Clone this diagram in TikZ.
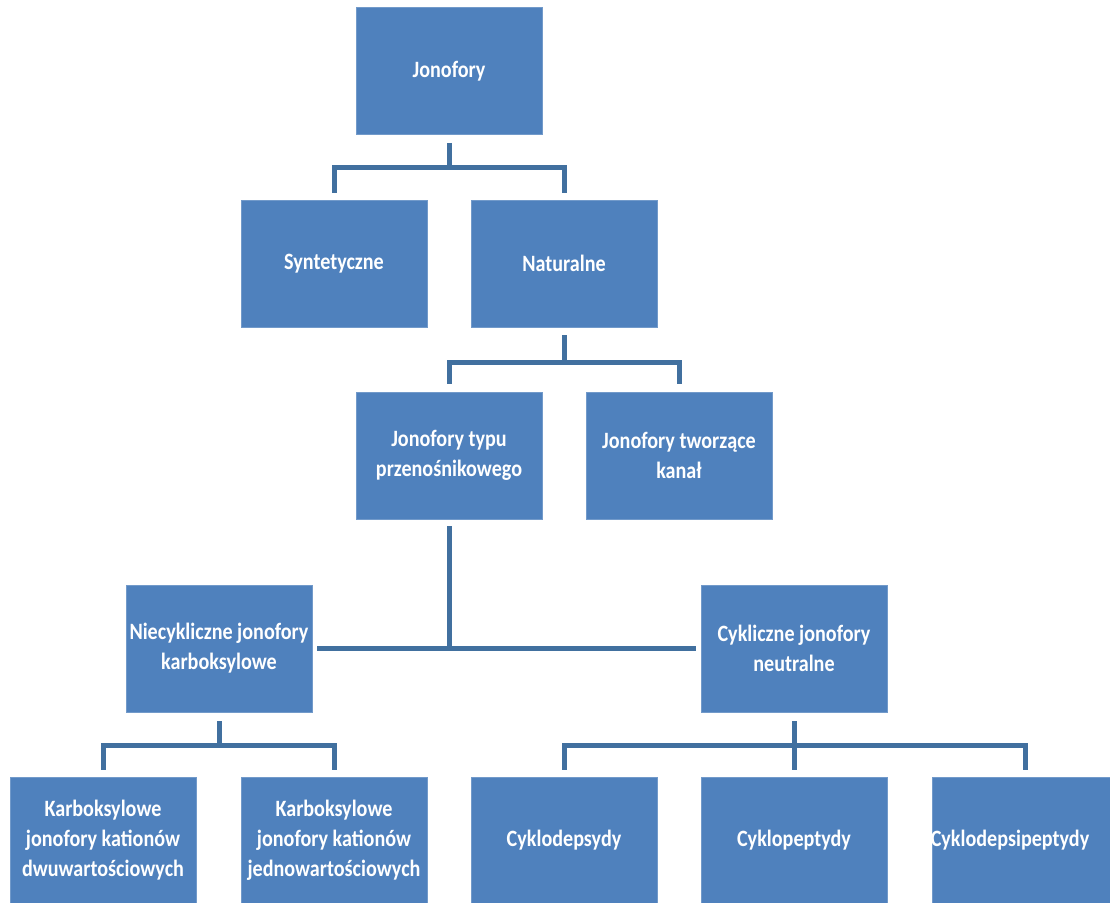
\documentclass[tikz,border=0pt]{standalone}
\usepackage{fontspec}
\setmainfont[FakeStretch=0.86]{Carlito}
\usetikzlibrary{calc}
\definecolor{boxblue}{HTML}{4F81BD}
\definecolor{lineblue}{HTML}{41709F}
\tikzset{
  orgbox/.style={rectangle, fill=boxblue, draw=boxblue!80!white, line width=0.8pt,
    minimum width=186pt, minimum height=127pt, inner sep=0pt,
    text=white, align=center, font=\fontsize{23.4}{30}\selectfont\bfseries},
  orgtxt/.style={text=white, align=center, inner sep=0pt, font=\fontsize{23.4}{30}\selectfont\bfseries},
  conn/.style={draw=lineblue, line width=5pt}
}
\begin{document}
\begin{tikzpicture}[x=1pt,y=-1pt]
\useasboundingbox (0,0) rectangle (1110,902);
\clip (0,0) rectangle (1110,902);
\node[orgbox] (jon) at (449,71) {Jonofory};
\node[orgbox] (syn) at (334,263.5) {Syntetyczne};
\node[orgbox] (nat) at (564,263.5) {Naturalne};
\node[orgbox] (prz) at (449,455.5) {Jonofory typu\\przenośnikowego};
\node[orgbox] (kan) at (679,455.5) {Jonofory tworzące\\kanał};
\node[orgbox] (nie) at (219,648.5) {Niecykliczne jonofory\\karboksylowe};
\node[orgbox] (cyk) at (794,648.5) {Cykliczne jonofory\\neutralne};
\node[orgbox] (dwu) at (103,840.5) {Karboksylowe\\jonofory kationów\\dwuwartościowych};
\node[orgbox] (jed) at (334,840.5) {Karboksylowe\\jonofory kationów\\jednowartościowych};
\node[orgbox] (cds) at (564,840.5) {Cyklodepsydy};
\node[orgbox] (cpt) at (794,840.5) {Cyklopeptydy};
\node[orgbox] (cdp) at (1025,840.5) {};
\node[orgtxt] (cdpt) at (1010,840.5) {Cyklodepsipeptydy};
% level 1
\draw[conn] ($(jon.south)+(0,8)$) -- ($(jon.south)+(0,33)$);
\draw[conn] ($(syn.north)+(0,-7)$) -- ($(syn.north)+(0,-32)$) -- ($(nat.north)+(0,-32)$) -- ($(nat.north)+(0,-7)$);
% level 2
\draw[conn] ($(nat.south)+(0,8)$) -- ($(nat.south)+(0,34)$);
\draw[conn] ($(prz.north)+(0,-8)$) -- ($(prz.north)+(0,-29)$) -- ($(kan.north)+(0,-29)$) -- ($(kan.north)+(0,-8)$);
% level 3
\draw[conn] ($(prz.south)+(0,7)$) -- ($(prz.south)+(0,128)$);
\draw[conn] ($(nie.east)+(5,0)$) -- ($(cyk.west)+(-5,0)$);
% level 4 left
\draw[conn] ($(nie.south)+(0,9)$) -- ($(nie.south)+(0,33)$);
\draw[conn] ($(dwu.north)+(0,-7)$) -- ($(dwu.north)+(0,-31)$) -- ($(jed.north)+(0,-31)$) -- ($(jed.north)+(0,-7)$);
% level 4 right
\draw[conn] ($(cyk.south)+(0,9)$) -- ($(cyk.south)+(0,33)$);
\draw[conn] ($(cds.north)+(0,-7)$) -- ($(cds.north)+(0,-31)$) -- ($(cdp.north)+(0,-31)$) -- ($(cdp.north)+(0,-7)$);
\draw[conn] ($(cpt.north)+(0,-7)$) -- ($(cpt.north)+(0,-31)$);
\end{tikzpicture}
\end{document}
